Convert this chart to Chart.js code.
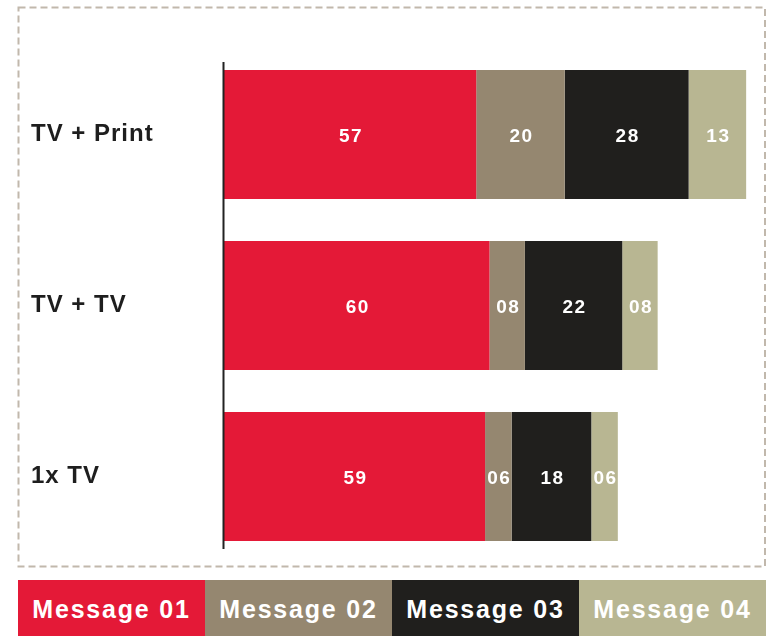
<!DOCTYPE html>
<html>
<head>
<meta charset="utf-8">
<script src="https://cdn.jsdelivr.net/npm/chart.js@4/dist/chart.umd.min.js"></script>
<style>
    html, body { margin: 0; padding: 0; background: #ffffff; }
    #wrap { position: relative; width: 766px; height: 636px; overflow: hidden; }
    #chart { position: absolute; left: 0; top: 0; }
    #legend {
        position: absolute; left: 18px; top: 580px; width: 748px; height: 56px;
        display: flex;
    }
    #legend div {
        flex: 1; display: flex; align-items: center; justify-content: center;
        color: #ffffff; font: bold 25px "Liberation Sans", Arial, sans-serif;
        letter-spacing: 1.8px; padding-top: 3px; box-sizing: border-box;
    }
</style>
</head>
<body>
<div id="wrap">
    <canvas id="chart" width="766" height="580"></canvas>
    <div id="legend"></div>
</div>
<script>
// Kategoriler ve seriler
const categories = ['TV + Print', 'TV + TV', '1x TV'];
const seriesNames = ['Message 01', 'Message 02', 'Message 03', 'Message 04'];
const message01 = [57, 60, 59];
const message02 = [20, 8, 6];
const message03 = [28, 22, 18];
const message04 = [13, 8, 6];
const seriesColors = ['#e41937', '#958770', '#201f1d', '#b8b692'];

const FONT = '"Liberation Sans", Arial, sans-serif';

// Kesikli çerçeve ve dikey eksen çizgisi
const framePlugin = {
    id: 'frame',
    beforeDraw(chart) {
        const ctx = chart.ctx;
        ctx.letterSpacing = '1px';
        ctx.save();
        ctx.strokeStyle = '#c1b8ac';
        ctx.lineWidth = 2;
        ctx.setLineDash([7, 4]);
        ctx.strokeRect(18.5, 7.5, 746.5, 559);
        ctx.restore();
    },
    afterDatasetsDraw(chart) {
        const ctx = chart.ctx;
        const area = chart.chartArea;
        ctx.save();
        ctx.strokeStyle = '#222222';
        ctx.lineWidth = 2;
        ctx.beginPath();
        ctx.moveTo(area.left - 0.5, area.top + 13);
        ctx.lineTo(area.left - 0.5, area.bottom - 13);
        ctx.stroke();
        ctx.restore();
    }
};

// Bar içindeki değer etiketleri
const valueLabels = {
    id: 'valueLabels',
    afterDatasetsDraw(chart) {
        const ctx = chart.ctx;
        ctx.save();
        ctx.fillStyle = '#ffffff';
        ctx.font = 'bold 19px ' + FONT;
        ctx.letterSpacing = '1.5px';
        ctx.textAlign = 'center';
        ctx.textBaseline = 'middle';
        chart.data.datasets.forEach((ds, i) => {
            chart.getDatasetMeta(i).data.forEach((bar, j) => {
                const txt = String(ds.data[j]).padStart(2, '0');
                ctx.fillText(txt, (bar.x + bar.base) / 2 + 1, bar.y + 2);
            });
        });
        ctx.restore();
    }
};

const allSeries = [message01, message02, message03, message04];

new Chart(document.getElementById('chart'), {
    type: 'bar',
    data: {
        labels: categories,
        datasets: seriesNames.map((name, i) => ({
            label: name,
            data: allSeries[i],
            backgroundColor: seriesColors[i],
            borderWidth: 0,
            barPercentage: 0.754,
            categoryPercentage: 1
        }))
    },
    options: {
        indexAxis: 'y',
        responsive: false,
        animation: false,
        devicePixelRatio: 1,
        layout: { padding: { left: 31, right: 11, top: 49, bottom: 18 } },
        scales: {
            x: {
                stacked: true, display: false, min: 0, max: 120
            },
            y: {
                stacked: true,
                grid: { display: false },
                border: { display: false },
                afterFit(scale) { scale.width = 193; },
                ticks: {
                    crossAlign: 'far',
                    color: '#1e1e1e',
                    font: { family: FONT, size: 24, weight: 'bold' }
                }
            }
        },
        plugins: {
            legend: { display: false },
            tooltip: { enabled: false }
        }
    },
    plugins: [framePlugin, valueLabels]
});

// Alt lejant
const legendEl = document.getElementById('legend');
seriesNames.forEach((name, i) => {
    const d = document.createElement('div');
    d.style.background = seriesColors[i];
    d.textContent = name;
    legendEl.appendChild(d);
});
</script>
</body>
</html>
